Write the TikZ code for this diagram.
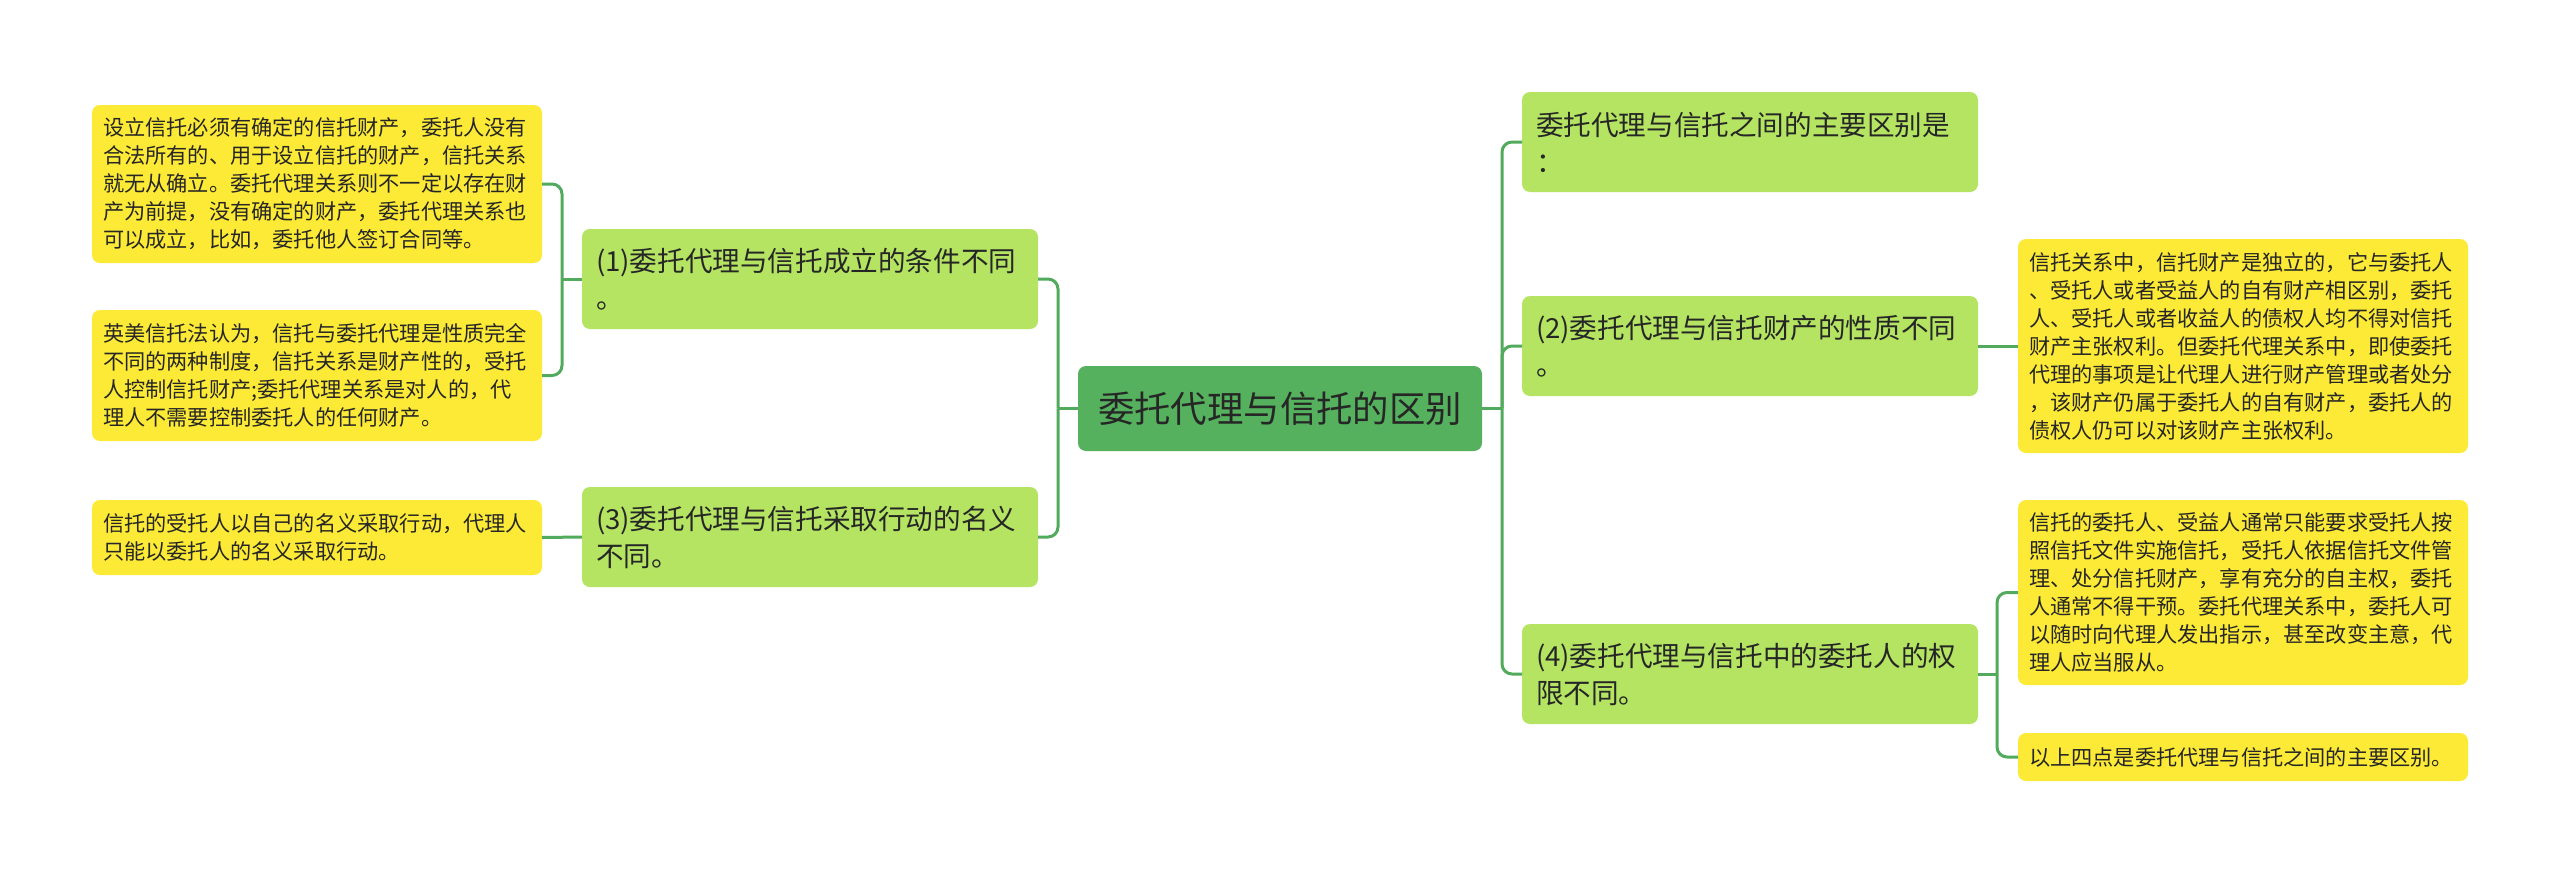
\documentclass[tikz,border=0pt]{standalone}
\usepackage{fontspec}
\setmainfont{Noto Sans CJK SC}
\usetikzlibrary{calc}
\definecolor{rootG}{HTML}{55B15E}
\definecolor{midG}{HTML}{B4E462}
\definecolor{leafY}{HTML}{FCEA36}
\definecolor{lineG}{HTML}{52AB5C}
\definecolor{txt}{HTML}{262626}
\tikzset{
  leafbox/.style={fill=leafY, rounded corners=4pt, anchor=north west, align=left,
    text width=214pt, inner xsep=5.5pt, inner ysep=0pt, outer sep=0pt,
    font=\fontsize{10.6pt}{14pt}\selectfont, text=txt},
  midbox/.style={fill=midG, rounded corners=4pt, anchor=north west, align=left,
    text width=214pt, inner xsep=7pt, inner ysep=0pt, outer sep=0pt,
    minimum height=50pt,
    font=\fontsize{13.8pt}{18.5pt}\selectfont, text=txt},
  rootbox/.style={fill=rootG, rounded corners=4pt, anchor=north west, align=center,
    minimum width=202pt, minimum height=42.5pt, inner sep=0pt, outer sep=0pt,
    font=\fontsize{18.2pt}{22pt}\selectfont, text=txt},
  conn/.style={draw=lineG, line width=1.5pt, rounded corners=5pt},
}
\begin{document}
\begin{tikzpicture}[x=0.5pt,y=-0.5pt]
\fill[white] (0,0) rectangle (2560,873);
\useasboundingbox (0,0) rectangle (2560,873);

% root
\node[rootbox] (root) at (1078,366) {委托代理与信托的区别};

% left level 1
\node[midbox] (L1) at (582,229) {(1)委托代理与信托成立的条件不同\\。};
\node[midbox] (L3) at (582,487) {(3)委托代理与信托采取行动的名义\\不同。};

% left leaves
\node[leafbox, minimum height=79pt] (A1) at (92,105) {设立信托必须有确定的信托财产，委托人没有\\合法所有的、用于设立信托的财产，信托关系\\就无从确立。委托代理关系则不一定以存在财\\产为前提，没有确定的财产，委托代理关系也\\可以成立，比如，委托他人签订合同等。};
\node[leafbox, minimum height=65.5pt] (A2) at (92,310) {英美信托法认为，信托与委托代理是性质完全\\不同的两种制度，信托关系是财产性的，受托\\人控制信托财产;委托代理关系是对人的，代\\理人不需要控制委托人的任何财产。};
\node[leafbox, minimum height=37.5pt] (A3) at (92,500) {信托的受托人以自己的名义采取行动，代理人\\只能以委托人的名义采取行动。};

% right level 1
\node[midbox] (R0) at (1522,92) {委托代理与信托之间的主要区别是\\：};
\node[midbox] (R2) at (1522,296) {(2)委托代理与信托财产的性质不同\\。};
\node[midbox] (R4) at (1522,624) {(4)委托代理与信托中的委托人的权\\限不同。};

% right leaves
\node[leafbox, minimum height=107pt] (B) at (2018,239) {信托关系中，信托财产是独立的，它与委托人\\、受托人或者受益人的自有财产相区别，委托\\人、受托人或者收益人的债权人均不得对信托\\财产主张权利。但委托代理关系中，即使委托\\代理的事项是让代理人进行财产管理或者处分\\，该财产仍属于委托人的自有财产，委托人的\\债权人仍可以对该财产主张权利。};
\node[leafbox, minimum height=92.5pt] (C1) at (2018,500) {信托的委托人、受益人通常只能要求受托人按\\照信托文件实施信托，受托人依据信托文件管\\理、处分信托财产，享有充分的自主权，委托\\人通常不得干预。委托代理关系中，委托人可\\以随时向代理人发出指示，甚至改变主意，代\\理人应当服从。};
\node[leafbox, minimum height=24pt] (C2) at (2018,733) {以上四点是委托代理与信托之间的主要区别。};

% junctions
\coordinate (jl) at ($(root.west)+(-20,0)$);
\coordinate (jr) at ($(root.east)+(20,0)$);
\coordinate (j1) at ($(L1.west)+(-20,0)$);
\coordinate (j4) at ($(R4.east)+(19,0)$);

% connectors
\draw[conn] (root.west) -- (jl);
\draw[conn] (jl) |- (L1.east);
\draw[conn] (jl) |- (L3.east);
\draw[conn] (L1.west) -- (j1);
\draw[conn] (j1) |- (A1.east);
\draw[conn] (j1) |- (A2.east);
\draw[conn] (L3.west) -- (A3.east);

\draw[conn] (root.east) -- (jr);
\draw[conn] (jr) |- (R0.west);
\draw[conn] (jr) |- (R2.west);
\draw[conn] (jr) |- (R4.west);
\draw[conn] (R2.east) -- (B.west);
\draw[conn] (R4.east) -- (j4);
\draw[conn] (j4) |- (C1.west);
\draw[conn] (j4) |- (C2.west);
\end{tikzpicture}
\end{document}
